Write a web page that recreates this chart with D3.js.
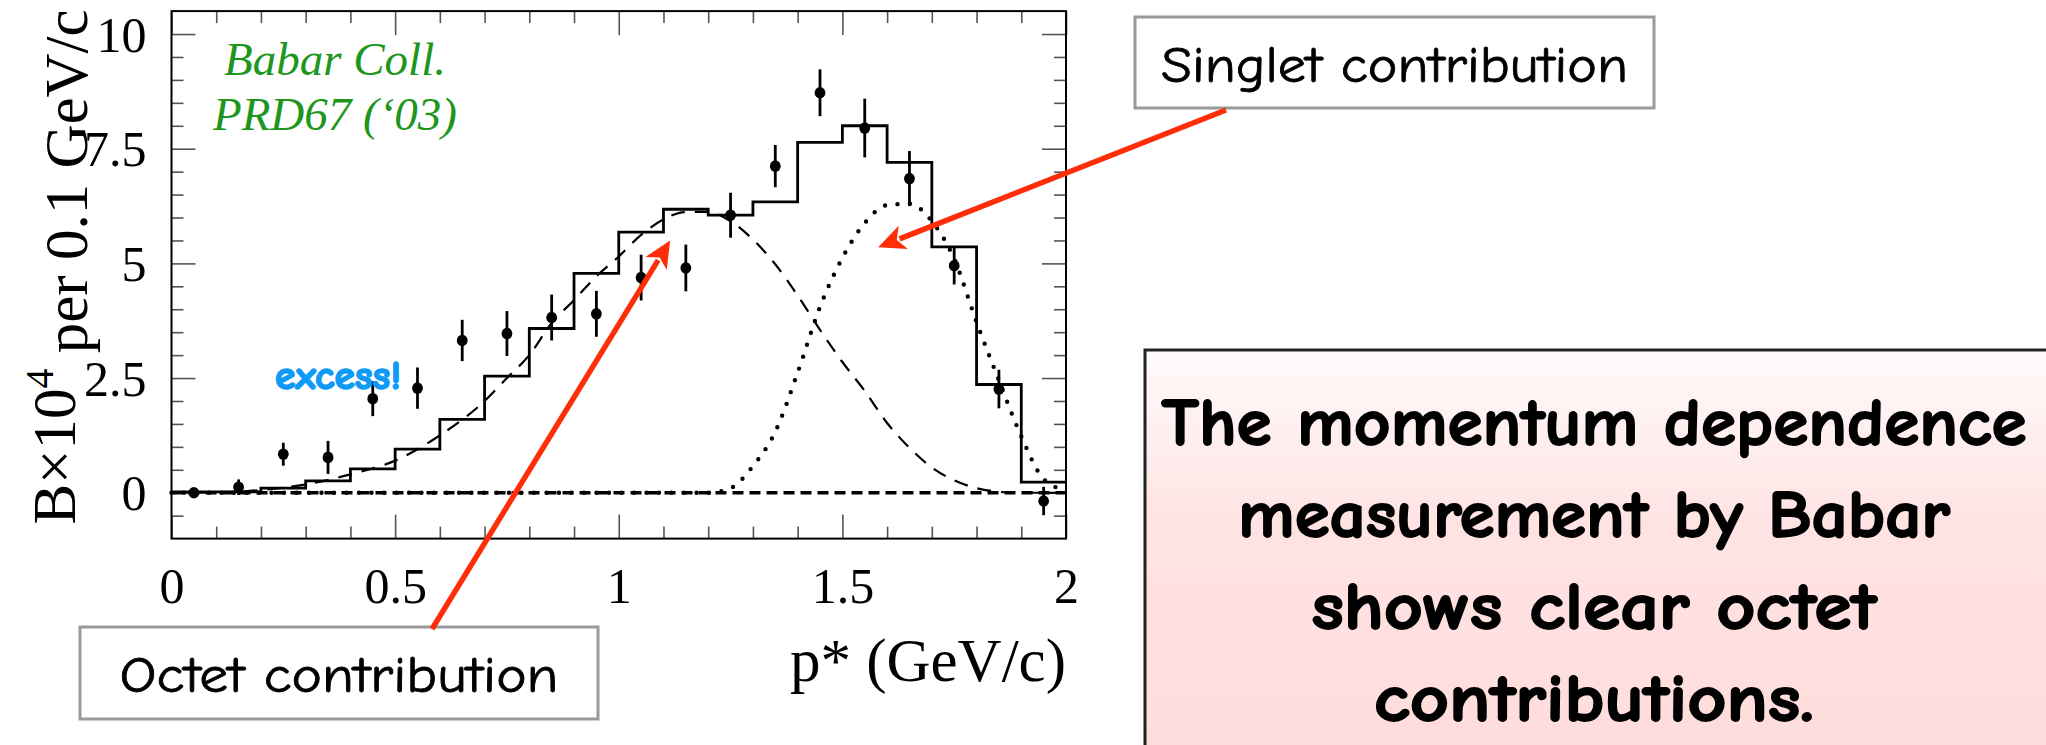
<!DOCTYPE html>
<html>
<head>
<meta charset="utf-8">
<script src="https://cdn.jsdelivr.net/npm/d3@7"></script>
<style>
    body { margin: 0; background: #ffffff; }
    svg { display: block; }
</style>
</head>
<body>
<script>
"use strict"

/* centri dei bin in p* (GeV/c), larghezza 0.1 */
const centriBin = [0.05, 0.15, 0.25, 0.35, 0.45, 0.55, 0.65, 0.75, 0.85, 0.95,
    1.05, 1.15, 1.25, 1.35, 1.45, 1.55, 1.65, 1.75, 1.85, 1.95];
/* punti misurati da Babar (B x 10^4 per 0.1 GeV/c) */
const puntiBabar = [0.0, 0.12, 0.84, 0.77, 2.05, 2.28, 3.32, 3.47, 3.82, 3.9,
    4.69, 4.9, 6.05, 7.12, 8.72, 7.95, 6.85, 4.95, 2.26, -0.18];
/* errori dei punti */
const erroriBabar = [0.04, 0.17, 0.25, 0.36, 0.38, 0.45, 0.45, 0.49, 0.5, 0.5,
    0.5, 0.51, 0.49, 0.46, 0.51, 0.64, 0.6, 0.41, 0.42, 0.31];
/* istogramma del fit totale (linea continua), un valore per bin */
const fitTotale = [0.02, 0.02, 0.1, 0.26, 0.52, 0.95, 1.6, 2.54, 3.58, 4.78,
    5.68, 6.18, 6.05, 6.34, 7.64, 8.0, 7.2, 5.36, 2.36, 0.23];

/* curva tratteggiata: contributo di ottetto */
const ottettoX = [0, 0.1, 0.2, 0.3, 0.4, 0.5, 0.6, 0.7, 0.75, 0.8, 0.85, 0.9, 0.95, 1.0,
    1.05, 1.1, 1.15, 1.2, 1.25, 1.3, 1.35, 1.4, 1.45, 1.5, 1.55, 1.6, 1.65, 1.7,
    1.75, 1.8, 1.85, 1.9, 2.0];
const ottettoY = [0, 0.01, 0.06, 0.18, 0.4, 0.7, 1.25, 2.0, 2.5, 3.0, 3.7, 4.2, 4.72, 5.15,
    5.62, 5.96, 6.12, 6.12, 5.92, 5.52, 4.98, 4.3, 3.55, 2.85, 2.22, 1.52, 0.98, 0.55,
    0.27, 0.1, 0.02, 0, 0];

/* curva punteggiata: contributo di singoletto */
const singolettoX = [0, 1.2, 1.25, 1.3, 1.35, 1.4, 1.45, 1.5, 1.55, 1.6, 1.65, 1.7,
    1.75, 1.8, 1.85, 1.9, 1.95, 2.0];
const singolettoY = [0, 0, 0.1, 0.58, 1.33, 2.62, 4.05, 5.12, 5.88, 6.27, 6.3, 5.92,
    5.1, 3.72, 2.45, 1.23, 0.3, 0.05];

/* tacche ed etichette degli assi */
const tickX = [0, 0.5, 1, 1.5, 2];
const etichetteX = ["0", "0.5", "1", "1.5", "2"];
const tickY = [0, 2.5, 5, 7.5, 10];
const etichetteY = ["0", "2.5", "5", "7.5", "10"];

/* testi */
const testoRiquadro = ["The momentum dependence", "measurement by Babar",
    "shows clear octet", "contributions."];
const testoCitazione = ["Babar Coll.", "PRD67 (\u201803)"];

const fontComic = "'Comic Sans MS', 'Comic Neue', Lato, sans-serif";
const fontSerif = "'Liberation Serif', 'Times New Roman', serif";
const rosso = "#ff2d08";

const svg = d3.select("body")
    .append("svg")
    .attr("width", 2046)
    .attr("height", 745);

/* gradiente rosa del riquadro di destra */
const grad = svg.append("defs")
    .append("linearGradient")
    .attr("id", "rosa")
    .attr("x1", 0).attr("y1", 0).attr("x2", 0).attr("y2", 1);
grad.append("stop").attr("offset", "0%").attr("stop-color", "#fffafa");
grad.append("stop").attr("offset", "35%").attr("stop-color", "#ffe3e3");
grad.append("stop").attr("offset", "100%").attr("stop-color", "#ffd9d9");

/* scale */
const x = d3.scaleLinear().domain([0, 2]).range([171.5, 1066]);
const y = d3.scaleLinear().domain([-1, 10.5]).range([538.6, 11.1]);

const grafico = svg.append("g");

/* tacche minori e maggiori sui quattro lati, verso l'interno */
const tickMinoriX = d3.range(0, 2.001, 0.1).filter(function (d) { return Math.abs(d * 2 - Math.round(d * 2)) > 1e-6 });
const tickMinoriY = d3.range(-0.5, 10.01, 0.5).filter(function (d) { return Math.abs(d / 2.5 - Math.round(d / 2.5)) > 1e-6 });

function assi(asse, trasla) {
    const g = grafico.append("g").attr("transform", trasla).call(asse);
    g.select(".domain").remove();
    g.selectAll(".tick line").attr("stroke", "#555").attr("stroke-width", 1.6);
    return g;
}

assi(d3.axisBottom(x).tickValues(tickMinoriX).tickSize(-12).tickFormat(""), "translate(0," + y(-1) + ")");
assi(d3.axisTop(x).tickValues(tickMinoriX).tickSize(-12).tickFormat(""), "translate(0," + y(10.5) + ")");
assi(d3.axisTop(x).tickValues(tickX).tickSize(-24).tickFormat(""), "translate(0," + y(10.5) + ")");
assi(d3.axisLeft(y).tickValues(tickMinoriY).tickSize(-12).tickFormat(""), "translate(" + x(0) + ",0)");
assi(d3.axisRight(y).tickValues(tickMinoriY).tickSize(-12).tickFormat(""), "translate(" + x(2) + ",0)");
assi(d3.axisRight(y).tickValues(tickY).tickSize(-24).tickFormat(""), "translate(" + x(2) + ",0)");

/* asse x con etichette */
const asseX = assi(d3.axisBottom(x).tickValues(tickX).tickSize(-24)
    .tickFormat(function (d, i) { return etichetteX[i] }), "translate(0," + y(-1) + ")");
asseX.selectAll("text")
    .attr("y", 64)
    .attr("dy", "0")
    .attr("fill", "#000")
    .style("font-family", fontSerif)
    .style("font-size", "50px");

/* asse y con etichette */
const asseY = assi(d3.axisLeft(y).tickValues(tickY).tickSize(-24)
    .tickFormat(function (d, i) { return etichetteY[i] }), "translate(" + x(0) + ",0)");
asseY.selectAll("text")
    .attr("x", -25)
    .attr("dy", "0.34em")
    .attr("fill", "#000")
    .style("font-family", fontSerif)
    .style("font-size", "50px");

/* cornice */
grafico.append("rect")
    .attr("x", x(0))
    .attr("y", y(10.5))
    .attr("width", x(2) - x(0))
    .attr("height", y(-1) - y(10.5))
    .attr("fill", "none")
    .attr("stroke", "#000")
    .attr("stroke-width", 2);

/* linea dello zero tratteggiata */
grafico.append("line")
    .attr("x1", x(0)).attr("x2", x(2))
    .attr("y1", y(0)).attr("y2", y(0))
    .attr("stroke", "#000")
    .attr("stroke-width", 3.6)
    .attr("stroke-dasharray", "11 6");

const linea = d3.line()
    .x(function (d) { return x(d[0]) })
    .y(function (d) { return y(d[1]) })
    .curve(d3.curveMonotoneX);

/* contributo di ottetto */
grafico.append("path")
    .datum(ottettoX.map(function (d, i) { return [d, ottettoY[i]] }))
    .attr("d", linea)
    .attr("fill", "none")
    .attr("stroke", "#000")
    .attr("stroke-width", 2.2)
    .attr("stroke-dasharray", "14 10");

/* contributo di singoletto */
grafico.append("path")
    .datum(singolettoX.map(function (d, i) { return [d, singolettoY[i]] }))
    .attr("d", linea)
    .attr("fill", "none")
    .attr("stroke", "#000")
    .attr("stroke-width", 4.4)
    .attr("stroke-linecap", "round")
    .attr("stroke-dasharray", "0 12.5");

/* istogramma del fit: gradini dal bordo sinistro di ogni bin */
const gradini = centriBin.map(function (c, i) { return [c - 0.05, fitTotale[i]] });
gradini.push([2, fitTotale[fitTotale.length - 1]]);
grafico.append("path")
    .datum(gradini)
    .attr("d", d3.line()
        .x(function (d) { return x(d[0]) })
        .y(function (d) { return y(d[1]) })
        .curve(d3.curveStepAfter))
    .attr("fill", "none")
    .attr("stroke", "#000")
    .attr("stroke-width", 2.8);

/* punti con barre d'errore */
const punti = grafico.selectAll("g.punto")
    .data(centriBin)
    .enter()
    .append("g")
    .attr("class", "punto");
punti.append("line")
    .attr("x1", function (d) { return x(d) })
    .attr("x2", function (d) { return x(d) })
    .attr("y1", function (d, i) { return y(puntiBabar[i] - erroriBabar[i]) })
    .attr("y2", function (d, i) { return y(puntiBabar[i] + erroriBabar[i]) })
    .attr("stroke", "#000")
    .attr("stroke-width", 2.8);
punti.append("ellipse")
    .attr("cx", function (d) { return x(d) })
    .attr("cy", function (d, i) { return y(puntiBabar[i]) })
    .attr("rx", 5.4)
    .attr("ry", 5.8)
    .attr("fill", "#000");

/* titoli degli assi */
svg.append("text")
    .attr("x", x(2))
    .attr("y", 681)
    .attr("text-anchor", "end")
    .style("font-family", fontSerif)
    .style("font-size", "61px")
    .text("p* (GeV/c)");

const titoloY = svg.append("text")
    .attr("transform", "translate(75,267) rotate(-90)")
    .attr("text-anchor", "middle")
    .style("font-family", fontSerif)
    .style("font-size", "61px");
titoloY.append("tspan").text("B\u00d710");
titoloY.append("tspan").attr("dy", "-0.55em").style("font-size", "40px").text("4");
titoloY.append("tspan").attr("dy", "0.55em").text(" per 0.1 GeV/c");

/* citazione in verde */
svg.selectAll("text.citazione")
    .data(testoCitazione)
    .enter()
    .append("text")
    .attr("class", "citazione")
    .attr("x", 335)
    .attr("y", function (d, i) { return 75 + i * 55 })
    .attr("text-anchor", "middle")
    .attr("fill", "#1e961e")
    .style("font-family", fontSerif)
    .style("font-style", "italic")
    .style("font-size", "47px")
    .text(function (d) { return d });

/* "excess!" */
svg.append("text")
    .attr("x", 338)
    .attr("y", 389)
    .attr("text-anchor", "middle")
    .attr("fill", "#0f9af5")
    .attr("stroke", "#0f9af5")
    .attr("stroke-width", 1.6)
    .attr("textLength", 126)
    .attr("lengthAdjust", "spacingAndGlyphs")
    .style("font-family", fontComic)
    .style("font-weight", "bold")
    .style("font-size", "40px")
    .text("excess!");

/* freccia rossa con punta piena */
function freccia(x1, y1, x2, y2) {
    const dx = x2 - x1, dy = y2 - y1;
    const lung = Math.sqrt(dx * dx + dy * dy);
    const ux = dx / lung, uy = dy / lung;
    const px = -uy, py = ux;
    const L = 27, W = 12.5, tacca = 7;
    svg.append("line")
        .attr("x1", x1).attr("y1", y1)
        .attr("x2", x2 - ux * (L - 4)).attr("y2", y2 - uy * (L - 4))
        .attr("stroke", rosso)
        .attr("stroke-width", 5.4);
    const punta = [
        [x2, y2],
        [x2 - ux * L + px * W, y2 - uy * L + py * W],
        [x2 - ux * (L - tacca), y2 - uy * (L - tacca)],
        [x2 - ux * L - px * W, y2 - uy * L - py * W]
    ];
    svg.append("polygon")
        .attr("points", punta.map(function (p) { return p.join(",") }).join(" "))
        .attr("fill", rosso);
}

/* riquadri delle etichette */
function etichetta(bx, by, bw, bh, testo, lunghezza, base) {
    svg.append("rect")
        .attr("x", bx).attr("y", by)
        .attr("width", bw).attr("height", bh)
        .attr("fill", "#fff")
        .attr("stroke", "#999")
        .attr("stroke-width", 3);
    svg.append("text")
        .attr("x", bx + bw / 2)
        .attr("y", base)
        .attr("text-anchor", "middle")
        .attr("textLength", lunghezza)
        .attr("lengthAdjust", "spacingAndGlyphs")
        .attr("stroke", "#000")
        .attr("stroke-width", 0.8)
        .style("font-family", fontComic)
        .style("font-size", "51px")
        .text(testo);
}

etichetta(1135, 17, 519, 91, "Singlet contribution", 467, 82);
etichetta(80, 627, 518, 92, "Octet contribution", 439, 692);

freccia(432, 629, x(1.115), y(5.5));
freccia(1226, 110, x(1.58), y(5.35));

/* riquadro rosa con il commento */
svg.append("rect")
    .attr("x", 1145)
    .attr("y", 350)
    .attr("width", 1000)
    .attr("height", 500)
    .attr("fill", "url(#rosa)")
    .attr("stroke", "#222")
    .attr("stroke-width", 3);

const lunghezzeRighe = [865, 712, 565, 440];
svg.selectAll("text.riquadro")
    .data(testoRiquadro)
    .enter()
    .append("text")
    .attr("class", "riquadro")
    .attr("x", 1594)
    .attr("y", function (d, i) { return 445 + i * 92 })
    .attr("text-anchor", "middle")
    .attr("textLength", function (d, i) { return lunghezzeRighe[i] })
    .attr("lengthAdjust", "spacingAndGlyphs")
    .attr("stroke", "#000")
    .attr("stroke-width", 1.8)
    .style("font-family", fontComic)
    .style("font-weight", "bold")
    .style("font-size", "67px")
    .text(function (d) { return d });
</script>
</body>
</html>
